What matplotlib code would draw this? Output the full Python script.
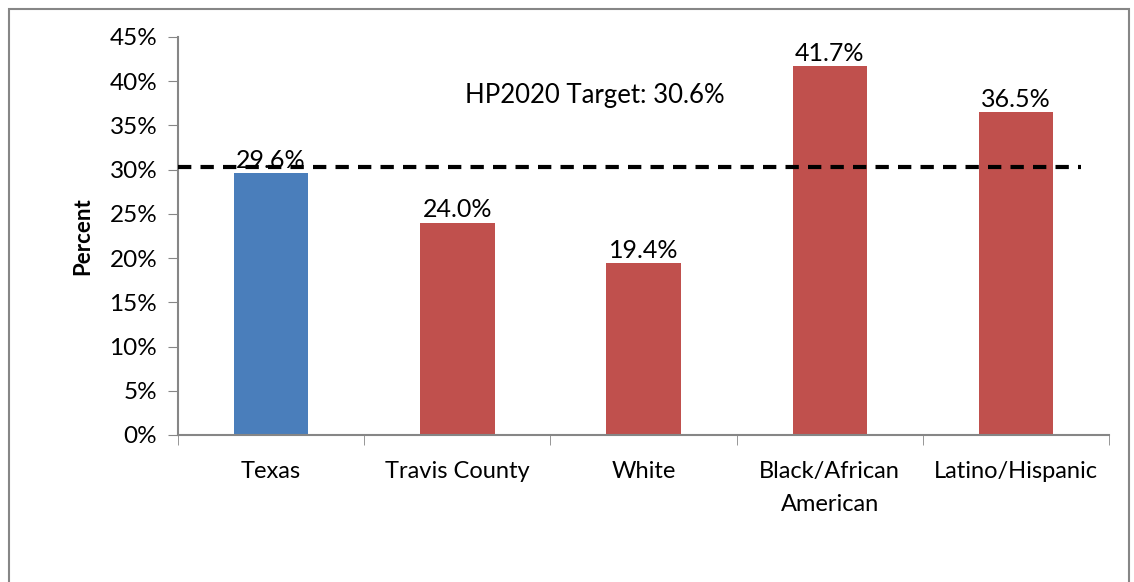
import matplotlib.pyplot as plt
import numpy as np
from matplotlib.patches import Rectangle

# data
groups = ["Texas", "Travis County", "White", "Black/African\nAmerican", "Latino/Hispanic"]
percent = [29.6, 24.0, 19.4, 41.7, 36.5]
bar_colors = ["#4A7EBB", "#C0504D", "#C0504D", "#C0504D", "#C0504D"]
target_label = "HP2020 Target: 30.6%"
target_line = 30.3  # where the dashed line sits in the picture

plt.rcParams['font.family'] = ['Lato', 'DejaVu Sans']

fig = plt.figure(figsize=(11.34, 5.82), dpi=100)
ax = fig.add_axes([0.157, 0.2526, 0.821, 0.684])

ind = np.arange(len(groups))
ax.bar(ind, percent, width=0.40, color=bar_colors, zorder=2)
for i, v in enumerate(percent):
    ax.annotate(f"{v:.1f}%", (i, v), xytext=(0, 1), textcoords="offset points",
                ha="center", va="bottom", fontsize=18, zorder=4)

ax.plot([-0.5, 4.35], [target_line, target_line], color="black", lw=3,
        dashes=(3.2, 2.2), zorder=3)
ax.text(0.448, 0.852, target_label, transform=ax.transAxes, ha="center",
        va="center", fontsize=18.5)

ax.set_xlim(-0.5, 4.5)
ax.set_ylim(0, 45)
ax.set_yticks(np.arange(0, 46, 5))
ax.set_yticklabels([f"{t}%" for t in range(0, 46, 5)], fontsize=17.5)
ax.set_xticks(ind)
ax.set_xticklabels(groups, fontsize=17, linespacing=1.7, va="top")
ax.set_xticks(np.arange(-0.5, 4.6, 1), minor=True)
ax.tick_params(axis="x", which="major", length=0, pad=19)
ax.tick_params(axis="x", which="minor", length=7, color="#868686", direction="out")
ax.tick_params(axis="y", length=7, color="#868686", direction="out", pad=8)
for s in ["top", "right"]:
    ax.spines[s].set_visible(False)
for s in ["left", "bottom"]:
    ax.spines[s].set_color("#868686")
    ax.spines[s].set_linewidth(1.5)
ax.set_ylabel("Percent", fontsize=16, fontweight="bold", labelpad=12)

# outer chart border
fig.patches.append(Rectangle((0.008, -0.01), 0.988, 0.995, transform=fig.transFigure,
                             fill=False, edgecolor="#868686", lw=1.5))

fig.savefig("out.png", dpi=100)
